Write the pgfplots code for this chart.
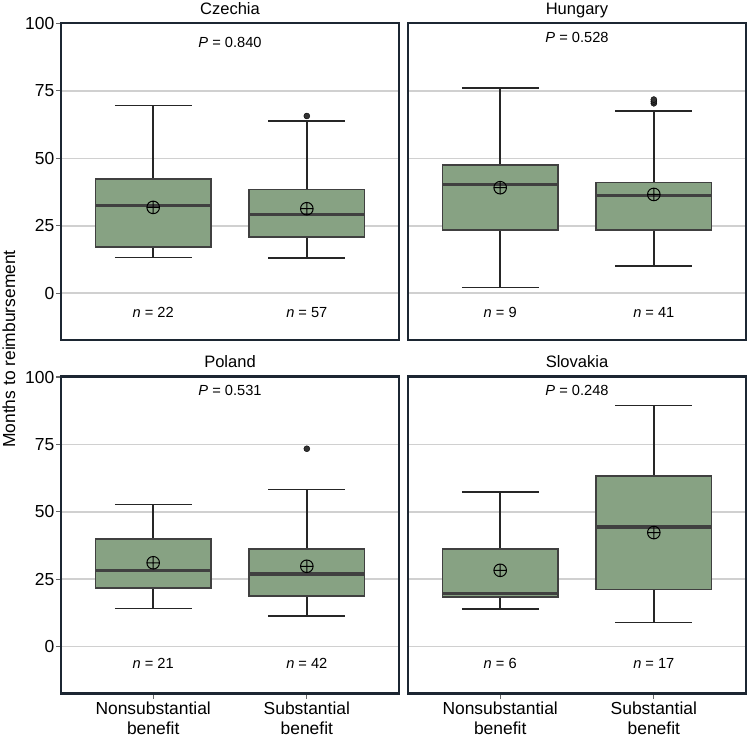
\documentclass[border=0pt]{standalone}
\usepackage{fontspec}
\setmainfont{Liberation Sans}
\usepackage{pgfplots}
\pgfplotsset{compat=1.18}
\usepgfplotslibrary{statistics}
\definecolor{boxfill}{HTML}{87A283}
\definecolor{boxedge}{HTML}{404040}
\definecolor{framec}{HTML}{1C2632}
\definecolor{gridc}{HTML}{D0D0D0}
\newcommand{\fA}{\fontsize{17.5}{20}\selectfont}
\newcommand{\fB}{\fontsize{16.6}{19}\selectfont}
\newcommand{\fC}{\fontsize{14.7}{17}\selectfont}
\pgfplotsset{
 panel/.style={scale only axis, width=338bp, height=317bp,
  xmin=0.4, xmax=2.6, ymin=-17.4, ymax=100.2,
  ytick={0,25,50,75,100}, ymajorgrids, grid style={draw=gridc, line width=1.6bp},
  axis line style={draw=framec, line width=2.8bp},
  xtick pos=bottom, ytick pos=left,
  tick align=outside, major tick length=5bp, tick style={draw=black!60, line width=1.1bp},
  /pgf/number format/assume math mode=true,
  ticklabel style={font=\fA},
  yticklabel style={anchor=east, inner sep=0pt, xshift=-1.5bp},
  xticklabel style={anchor=north, align=center, inner sep=0pt, yshift=-3bp},
  title style={font=\fB, at={(0.5,1)}, anchor=base, yshift=3bp, inner sep=0pt},
  clip=false,
 },
 topp/.style={xtick=\empty},
 botp/.style={xtick={1,2}, xticklabels={Nonsubstantial\\benefit, Substantial\\benefit}},
 leftp/.style={},
 rightp/.style={yticklabels={}, ytick style={draw=none}},
 meanm/.style={only marks, mark=oplus, mark size=6.3bp, mark options={draw=black, fill=none, line width=1bp}},
 outm/.style={only marks, mark=*, mark size=3bp, mark options={draw=none, fill=black!80}},
}
\newcommand{\bx}[6]{\addplot[boxplot/draw direction=y, boxplot prepared={draw position=#1, lower whisker=#2, lower quartile=#3, median=#4, upper quartile=#5, upper whisker=#6, box extend=0.75, whisker extend=0.5, every box/.style={draw=boxedge, fill=boxfill, line width=1.7bp}, every whisker/.style={draw=black!85, line width=1.4bp}, every median/.style={draw=boxedge, line width=3.2bp}}] coordinates {};}
\begin{document}
\begin{tikzpicture}
\useasboundingbox (0,0) rectangle (748bp,-740bp);
% Czechia
\begin{axis}[panel, topp, leftp, at={(61bp,-340bp)}, anchor=south west, title={Czechia}]
\bx{1}{13.1}{17.2}{32.4}{42.3}{69.6}
\bx{2}{13.0}{20.9}{29.2}{38.4}{63.9}
\addplot[outm] coordinates {(2,65.7)};
\addplot[meanm] coordinates {(1,31.8) (2,31.3)};
\node[font=\fC, anchor=base] at (axis cs:1.5,91.2) {\textit{P} = 0.840};
\node[font=\fC, anchor=base] at (axis cs:1,-8.9) {\textit{n} = 22};
\node[font=\fC, anchor=base] at (axis cs:2,-8.9) {\textit{n} = 57};
\end{axis}
% Hungary
\begin{axis}[panel, topp, rightp, at={(408bp,-340bp)}, anchor=south west, title={Hungary}]
\bx{1}{2.1}{23.4}{40.3}{47.5}{76.1}
\bx{2}{10.0}{23.4}{36.1}{41.0}{67.5}
\addplot[outm] coordinates {(2,70.4) (2,71.1) (2,71.8)};
\addplot[meanm] coordinates {(1,39.1) (2,36.6)};
\node[font=\fC, anchor=base] at (axis cs:1.5,93.1) {\textit{P} = 0.528};
\node[font=\fC, anchor=base] at (axis cs:1,-8.9) {\textit{n} = 9};
\node[font=\fC, anchor=base] at (axis cs:2,-8.9) {\textit{n} = 41};
\end{axis}
% Poland
\begin{axis}[panel, botp, leftp, at={(61bp,-693.5bp)}, anchor=south west, title={Poland}]
\bx{1}{14.1}{21.7}{28.2}{40.0}{52.7}
\bx{2}{11.3}{18.8}{26.9}{36.3}{58.3}
\addplot[outm] coordinates {(2,73.4)};
\addplot[meanm] coordinates {(1,31.1) (2,29.8)};
\node[font=\fC, anchor=base] at (axis cs:1.5,93.2) {\textit{P} = 0.531};
\node[font=\fC, anchor=base] at (axis cs:1,-8.0) {\textit{n} = 21};
\node[font=\fC, anchor=base] at (axis cs:2,-8.0) {\textit{n} = 42};
\end{axis}
% Slovakia
\begin{axis}[panel, botp, rightp, at={(408bp,-693.5bp)}, anchor=south west, title={Slovakia}]
\bx{1}{13.9}{18.3}{19.6}{36.1}{57.3}
\bx{2}{8.9}{21.2}{44.4}{63.4}{89.5}
\addplot[meanm] coordinates {(1,28.3) (2,42.3)};
\node[font=\fC, anchor=base] at (axis cs:1.5,93.2) {\textit{P} = 0.248};
\node[font=\fC, anchor=base] at (axis cs:1,-8.0) {\textit{n} = 6};
\node[font=\fC, anchor=base] at (axis cs:2,-8.0) {\textit{n} = 17};
\end{axis}
\node[rotate=90, anchor=base, font=\fA, inner sep=0pt] at (15bp,-349bp) {Months to reimbursement};
\end{tikzpicture}
\end{document}
